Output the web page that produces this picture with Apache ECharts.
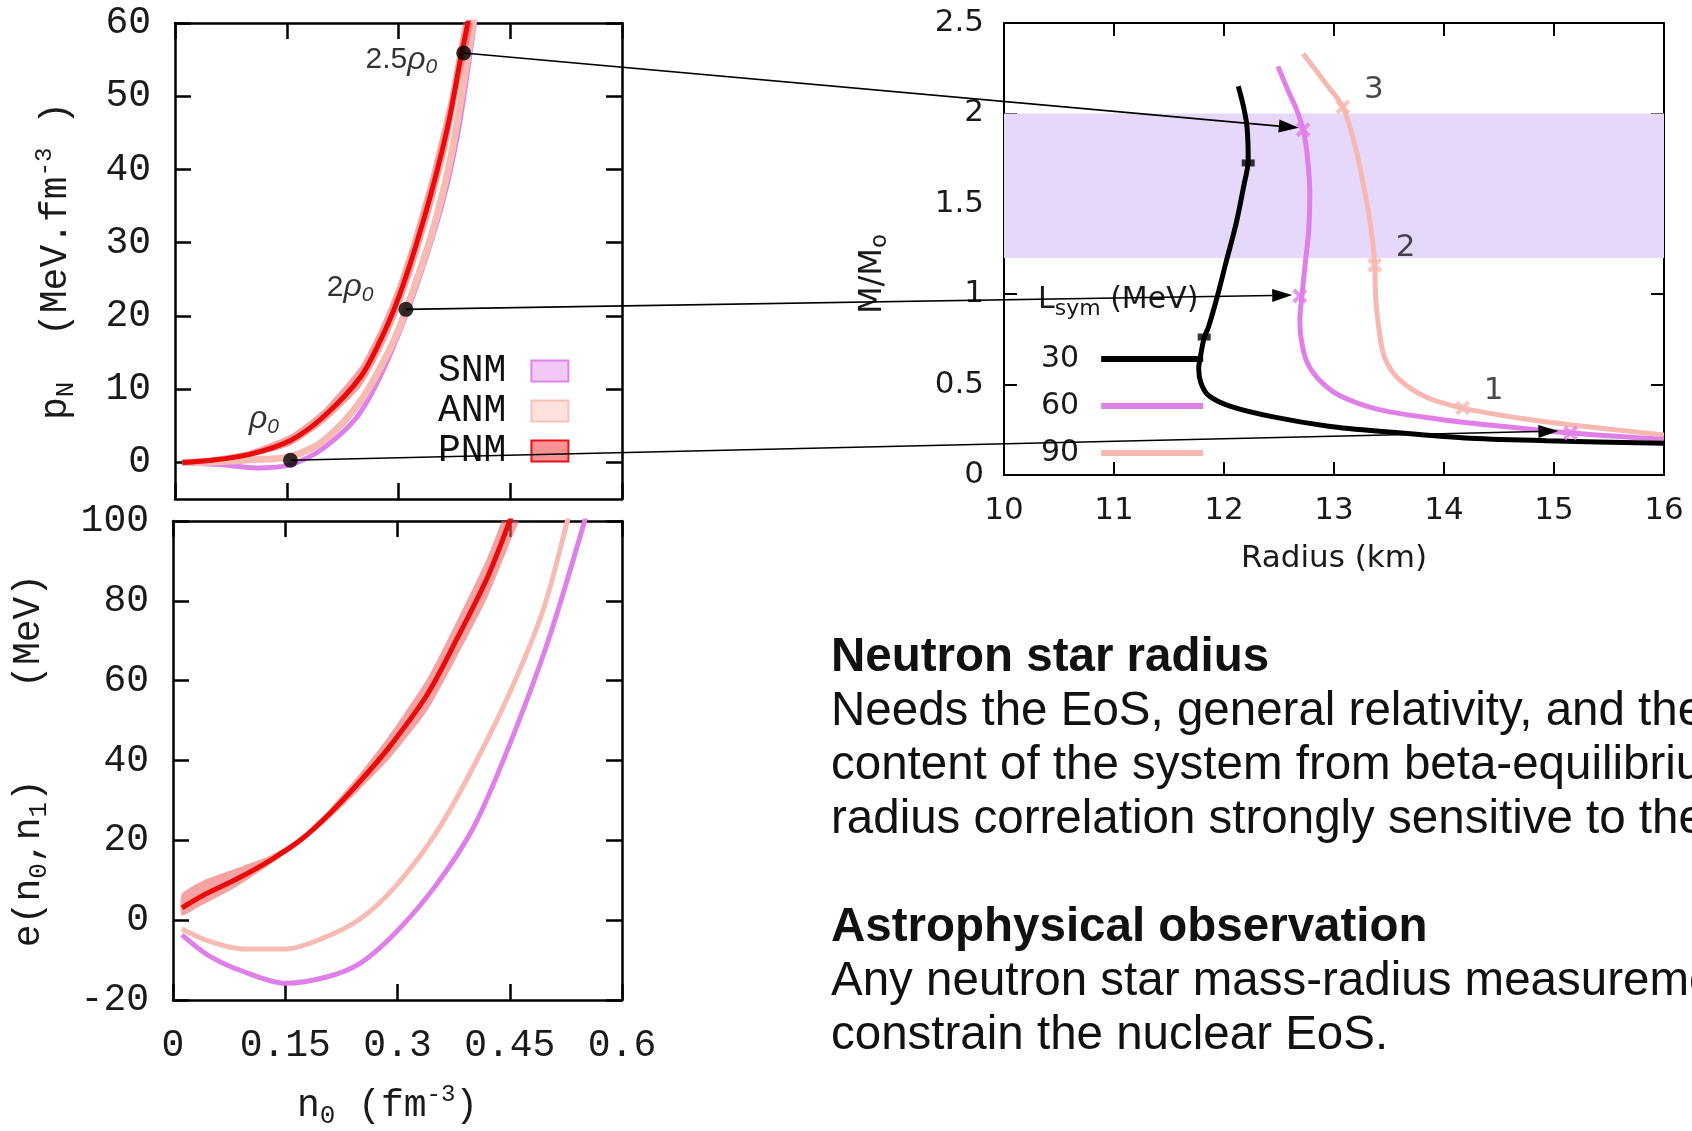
<!DOCTYPE html>
<html><head><meta charset="utf-8"><title>EoS and neutron star radius</title>
<script src="https://cdn.jsdelivr.net/npm/echarts@6.0.0/dist/echarts.min.js"></script>
<style>html,body{margin:0;padding:0;background:#fff;}#chart{width:1692px;height:1131px;}</style>
</head><body><div id="chart"></div>
<script>
// ---------------- data: pressure p_N vs n0 (top-left) ----------------
const pTopX_PNM = [0.010,0.050,0.100,0.155,0.200,0.250,0.280,0.300,0.320,0.345,0.367,0.383,0.394,0.405];
const pTopY_PNM = [0.0,0.3,1.1,3.0,6.3,11.8,17.6,22.5,28.5,37.2,46.3,54.9,60.5,67.0];
const pTopLo_PNM = [-0.3,0.0,0.7,2.3,5.4,10.4,15.9,20.6,26.3,34.7,43.5,52.0,57.0,63.0];
const pTopHi_PNM = [0.3,0.7,1.6,3.8,7.3,13.3,19.4,24.5,30.8,39.8,49.2,58.0,64.0,71.0];
const pTopX_ANM = [0.010,0.060,0.100,0.155,0.200,0.250,0.290,0.310,0.345,0.372,0.400,0.412];
const pTopY_ANM = [0.0,0.1,0.35,0.8,3.0,8.5,15.8,20.8,31.3,42.6,60.0,68.0];
const pTopX_SNM = [0.010,0.060,0.110,0.155,0.200,0.250,0.300,0.350,0.378,0.402,0.412];
const pTopY_SNM = [0.0,-0.3,-0.75,-0.3,2.0,7.0,17.5,32.2,44.0,60.0,67.0];
// density markers
const rhoX = [0.155, 0.310, 0.3875];
const rhoY = [0.3, 20.9, 55.9];
const rhoLabels = ['{r|ρ}{s|0}', '{n|2}{r|ρ}{s|0}', '{n|2.5}{r|ρ}{s|0}'];
const pTopYTicks = [0, 10, 20, 30, 40, 50, 60];

// ---------------- data: energy per particle (bottom-left) ----------------
const eX_PNM = [0.012,0.040,0.085,0.130,0.170,0.210,0.250,0.290,0.340,0.380,0.420,0.450,0.470];
const eY_PNM = [3.1,6.2,10.3,15.0,20.0,26.8,34.8,43.6,56.6,70.7,85.8,100.0,110.0];
const eHi_PNM = [6.6,9.9,13.0,16.2,20.8,28.0,36.8,46.6,60.6,75.2,90.8,105.5,116.0];
const eLo_PNM = [1.2,3.9,8.4,14.0,19.2,25.6,32.8,40.6,52.6,66.2,80.8,94.5,104.0];
const eX_ANM = [0.012,0.047,0.093,0.151,0.198,0.250,0.297,0.350,0.396,0.449,0.495,0.527,0.540];
const eY_ANM = [-2.2,-5.2,-7.2,-7.2,-4.7,0.3,8.4,21.4,36.5,56.6,77.9,100.0,110.0];
const eX_SNM = [0.012,0.047,0.093,0.151,0.204,0.250,0.297,0.350,0.402,0.449,0.501,0.550,0.560];
const eY_SNM = [-3.7,-8.8,-12.8,-15.8,-14.3,-10.8,-3.2,8.4,23.4,43.6,69.8,100.0,108.0];

// ---------------- data: mass-radius (right) ----------------
const mr30R = [12.13,12.18,12.21,12.22,12.18,12.11,12.02,11.94,11.86,11.82,11.79,11.77,11.79,11.86,12.06,12.46,12.95,13.45,14.19,14.93,16.00];
const mr30M = [2.15,2.03,1.92,1.74,1.60,1.39,1.18,0.99,0.82,0.76,0.67,0.59,0.51,0.44,0.38,0.32,0.27,0.24,0.205,0.19,0.175];
const mr60R = [12.49,12.58,12.66,12.72,12.76,12.78,12.77,12.74,12.71,12.69,12.70,12.75,12.86,13.05,13.42,13.94,14.43,15.15,16.00];
const mr60M = [2.26,2.13,2.02,1.91,1.75,1.55,1.35,1.18,1.00,0.86,0.76,0.63,0.53,0.44,0.36,0.31,0.275,0.232,0.197];
const mr90R = [12.72,12.92,13.08,13.20,13.30,13.35,13.37,13.38,13.41,13.46,13.59,13.84,14.17,14.68,15.18,16.00];
const mr90M = [2.33,2.17,2.035,1.80,1.50,1.30,1.16,0.97,0.80,0.65,0.53,0.43,0.37,0.315,0.275,0.222];
const mark30R = [12.22, 11.82];
const mark30M = [1.726, 0.763];
const mark60R = [12.72, 12.69, 15.15];
const mark60M = [1.91, 0.99, 0.232];
const mark90R = [13.08, 13.37, 14.17];
const mark90M = [2.035, 1.16, 0.37];
const mark90Labels = ['3', '2', '1'];
const obsBandR = [10, 16];
const obsBandM = [1.2, 2.0];
// arrow end points (in M-R coordinates), one per density marker
const arrowToR = [15.04, 12.62, 12.68];
const arrowToM = [0.243, 0.995, 1.92];

// ---------------- helpers ----------------
const zip = (a, b) => a.map((v, i) => [v, b[i]]);
const MONO = '"Liberation Mono", "DejaVu Sans Mono", monospace';
const SANS = '"DejaVu Sans", sans-serif';
const LSANS = '"Liberation Sans", Arial, sans-serif';
const C_RED = '#ea0a0a', C_REDBAND = 'rgba(240,100,100,0.6)';
const C_ANM = '#f7bbb4', C_SNM = '#df80e8';
const C_60 = '#e07fe8', C_90 = '#f7b8b2';

function valAxis(grid, pos, min, max, interval, labelShow, font, fontSize, tickLen, lw, margin, custom) {
  const a = {
    type: 'value', gridIndex: grid, position: pos, min: min, max: max,
    axisLine: {show: true, onZero: false, lineStyle: {color: '#000', width: lw}},
    axisTick: {show: true, inside: true, length: tickLen, lineStyle: {color: '#000', width: lw}},
    axisLabel: {show: labelShow, fontFamily: font, fontSize: fontSize, color: '#1a1a1a', margin: margin},
    splitLine: {show: false}
  };
  if (custom) { a.axisTick.customValues = custom; a.axisLabel.customValues = custom; }
  else a.interval = interval;
  return a;
}
function band(name, xs, lo, hi, color, xi, yi, z) {
  return {
    type: 'custom', name: name, xAxisIndex: xi, yAxisIndex: yi, silent: true, z: z,
    data: [[xs[0], lo[0]]],
    renderItem: function (params, api) {
      const pts = [];
      for (let i = 0; i < xs.length; i++) pts.push(api.coord([xs[i], hi[i]]));
      for (let i = xs.length - 1; i >= 0; i--) pts.push(api.coord([xs[i], lo[i]]));
      const cs = params.coordSys;
      return {type: 'polygon', shape: {points: pts, smooth: 0.2}, style: {fill: color},
        clipPath: {type: 'rect', shape: {x: cs.x, y: cs.y, width: cs.width, height: cs.height}}};
    }
  };
}
function line(name, data, color, width, xi, yi, z) {
  return {type: 'line', name: name, data: data, xAxisIndex: xi, yAxisIndex: yi, showSymbol: false,
    smooth: 0.3, clip: true, silent: true, z: z, lineStyle: {color: color, width: width}, itemStyle: {color: color}};
}

const monoRich = {
  t: {fontFamily: MONO, fontSize: 38, color: '#1a1a1a', lineHeight: 46},
  s: {fontFamily: MONO, fontSize: 26, color: '#1a1a1a', lineHeight: 26, verticalAlign: 'bottom'},
  p: {fontFamily: MONO, fontSize: 24, color: '#1a1a1a', lineHeight: 24, verticalAlign: 'top'}
};
const sansRich = {
  a: {fontFamily: SANS, fontSize: 32, color: '#1a1a1a', lineHeight: 38},
  s: {fontFamily: SANS, fontSize: 23, color: '#1a1a1a', lineHeight: 23, verticalAlign: 'bottom'}
};
const xSymbol = 'path://M2,0L5,3L8,0L10,2L7,5L10,8L8,10L5,7L2,10L0,8L3,5L0,2Z';

const option = {
  backgroundColor: '#ffffff',
  animation: false,
  grid: [
    {left: 175, top: 23, width: 447, height: 476, containLabel: false, outerBoundsMode: 'none'},
    {left: 173, top: 521, width: 449, height: 479, containLabel: false, outerBoundsMode: 'none'},
    {left: 1004, top: 23, width: 660, height: 452, containLabel: false, outerBoundsMode: 'none'}
  ],
  xAxis: [
    valAxis(0, 'bottom', 0, 0.6, 0.15, false, MONO, 38, 16, 2.5, 26),
    valAxis(0, 'top', 0, 0.6, 0.15, false, MONO, 38, 16, 2.5, 26),
    Object.assign(valAxis(1, 'bottom', 0, 0.6, 0.15, true, MONO, 38, 16, 2.5, 27), {
      name: '{t|n}{s|0}{t| (fm}{p|-3}{t|)}', nameLocation: 'middle', nameGap: 83,
      nameTextStyle: {rich: monoRich, padding: [0, 20, 0, 0]}}),
    valAxis(1, 'top', 0, 0.6, 0.15, false, MONO, 38, 16, 2.5, 24),
    Object.assign(valAxis(2, 'bottom', 10, 16, 1, true, SANS, 31, 13, 2, 20), {
      name: 'Radius (km)', nameLocation: 'middle', nameGap: 66,
      nameTextStyle: {fontFamily: SANS, fontSize: 31, color: '#1a1a1a', lineHeight: 36}}),
    valAxis(2, 'top', 10, 16, 1, false, SANS, 31, 13, 2, 18)
  ],
  yAxis: [
    Object.assign(valAxis(0, 'left', -5, 60, null, true, MONO, 38, 16, 2.5, 24, pTopYTicks), {
      name: '{t|p}{s|N}{t|  (MeV.fm}{p|-3}{t| )}', nameLocation: 'middle', nameGap: 96,
      nameTextStyle: {rich: monoRich}}),
    valAxis(0, 'right', -5, 60, null, false, MONO, 38, 16, 2.5, 24, pTopYTicks),
    Object.assign(valAxis(1, 'left', -20, 100, 20, true, MONO, 38, 16, 2.5, 24), {
      name: '{t|e(n}{s|0}{t|,n}{s|1}{t|)    (MeV)}', nameLocation: 'middle', nameGap: 121,
      nameTextStyle: {rich: monoRich}}),
    valAxis(1, 'right', -20, 100, 20, false, MONO, 38, 16, 2.5, 24),
    Object.assign(valAxis(2, 'left', 0, 2.5, 0.5, true, SANS, 31, 13, 2, 20), {
      name: '{a|M/M}{s|o}', nameLocation: 'middle', nameGap: 112,
      nameTextStyle: {rich: sansRich, padding: [0, 50, 0, 0]}}),
    valAxis(2, 'right', 0, 2.5, 0.5, false, SANS, 31, 13, 2, 20)
  ],
  legend: [
    {orient: 'vertical', left: 433, top: 347, align: 'right', itemWidth: 37, itemHeight: 21, itemGap: 2,
      selectedMode: false, textStyle: {fontFamily: MONO, fontSize: 38, color: '#111', lineHeight: 38, padding: [0, 20, 0, 0]},
      data: [
        {name: 'SNM', icon: 'rect', itemStyle: {color: '#f3c8f7', borderColor: '#de84ea', borderWidth: 2}},
        {name: 'ANM', icon: 'rect', itemStyle: {color: '#fce1dd', borderColor: '#f7c1ba', borderWidth: 2}},
        {name: 'PNM', icon: 'rect', itemStyle: {color: '#f99393', borderColor: '#e8101a', borderWidth: 2}}
      ]},
    {orient: 'vertical', left: 1036, top: 339, align: 'right', itemWidth: 102, itemHeight: 6, itemGap: 17,
      selectedMode: false, textStyle: {fontFamily: SANS, fontSize: 30, color: '#1a1a1a', lineHeight: 30, padding: [0, 17, 0, 0]},
      data: [
        {name: '30', icon: 'rect', itemStyle: {color: '#000000', borderWidth: 0}},
        {name: '60', icon: 'rect', itemStyle: {color: C_60, borderWidth: 0}},
        {name: '90', icon: 'rect', itemStyle: {color: C_90, borderWidth: 0}}
      ]}
  ],
  series: [
    // top-left: pressure
    line('SNM', zip(pTopX_SNM, pTopY_SNM), C_SNM, 5, 0, 0, 2),
    line('ANM', zip(pTopX_ANM, pTopY_ANM), C_ANM, 7, 0, 0, 2),
    band('PNM', pTopX_PNM, pTopLo_PNM, pTopHi_PNM, C_REDBAND, 0, 0, 3),
    line('PNM', zip(pTopX_PNM, pTopY_PNM), C_RED, 5, 0, 0, 4),
    {type: 'scatter', name: 'density', xAxisIndex: 0, yAxisIndex: 0, z: 10, silent: true,
      symbol: 'circle', symbolSize: 15, itemStyle: {color: '#000'},
      label: {show: true, position: 'left', distance: 5, formatter: p => rhoLabels[p.dataIndex],
        rich: {
          n: {fontFamily: LSANS, fontSize: 30, color: '#000', lineHeight: 36},
          r: {fontFamily: LSANS, fontStyle: 'italic', fontSize: 32, color: '#000', lineHeight: 36},
          s: {fontFamily: LSANS, fontStyle: 'italic', fontSize: 21, color: '#000', lineHeight: 21, verticalAlign: 'bottom'}
        }},
      data: [
        {value: [rhoX[0], rhoY[0]], label: {offset: [1, -41]}},
        {value: [rhoX[1], rhoY[1]], label: {offset: [-20, -22]}},
        {value: [rhoX[2], rhoY[2]], label: {offset: [-14, 7]}}
      ]},
    // bottom-left: energy
    line('SNM', zip(eX_SNM, eY_SNM), C_SNM, 5, 2, 2, 2),
    line('ANM', zip(eX_ANM, eY_ANM), C_ANM, 5, 2, 2, 2),
    band('PNM', eX_PNM, eLo_PNM, eHi_PNM, C_REDBAND, 2, 2, 3),
    line('PNM', zip(eX_PNM, eY_PNM), C_RED, 5, 2, 2, 4),
    // right: mass-radius
    {type: 'custom', name: 'obs', xAxisIndex: 4, yAxisIndex: 4, silent: true, z: 1,
      data: [[obsBandR[0], obsBandM[0]]],
      renderItem: function (params, api) {
        const a = api.coord([obsBandR[0], obsBandM[1]]);
        const b = api.coord([obsBandR[1], obsBandM[0]]);
        return {type: 'rect', shape: {x: a[0], y: a[1], width: b[0] - a[0], height: b[1] - a[1]},
          style: {fill: '#e5d8fa'}};
      }},
    line('90', zip(mr90R, mr90M), C_90, 5, 4, 4, 3),
    line('60', zip(mr60R, mr60M), C_60, 5, 4, 4, 4),
    line('30', zip(mr30R, mr30M), '#000000', 5, 4, 4, 5),
    {type: 'scatter', name: 'm90', xAxisIndex: 4, yAxisIndex: 4, z: 6, silent: true,
      symbol: xSymbol, symbolSize: 15, itemStyle: {color: C_90},
      label: {show: true, position: 'inside', offset: [31, -17], formatter: p => mark90Labels[p.dataIndex],
        fontFamily: SANS, fontSize: 31, color: '#1a1a1a'},
      data: zip(mark90R, mark90M)},
    {type: 'scatter', name: 'm60', xAxisIndex: 4, yAxisIndex: 4, z: 6, silent: true,
      symbol: xSymbol, symbolSize: 15, itemStyle: {color: C_60}, data: zip(mark60R, mark60M)},
    {type: 'scatter', name: 'm30', xAxisIndex: 4, yAxisIndex: 4, z: 6, silent: true,
      symbol: 'rect', symbolSize: [13, 7], itemStyle: {color: '#000'}, data: zip(mark30R, mark30M)}
  ],
  graphic: [
    {type: 'text', id: 'lsym', x: 1038, y: 300, z: 20, silent: true,
      style: {text: '{a|L}{s|sym}{a| (MeV)}', verticalAlign: 'middle', align: 'left',
        rich: {a: {fontFamily: SANS, fontSize: 30, fill: '#1a1a1a', lineHeight: 40},
               s: {fontFamily: SANS, fontSize: 22, fill: '#1a1a1a', lineHeight: 22, verticalAlign: 'bottom'}}}},
    {type: 'text', id: 'notes', x: 831, y: 631, z: 20, silent: true,
      style: {
        text: '{b|Neutron star radius}\n' +
              '{r|Needs the EoS, general relativity, and the proton}\n' +
              '{r|content of the system from beta-equilibrium. Mass-}\n' +
              '{r|radius correlation strongly sensitive to the EoS.}\n' +
              ' \n' +
              '{b|Astrophysical observation}\n' +
              '{r|Any neutron star mass-radius measurement will}\n' +
              '{r|constrain the nuclear EoS.}',
        fontFamily: LSANS, fontSize: 47.5, lineHeight: 54, fill: '#111',
        align: 'left', verticalAlign: 'top',
        rich: {
          b: {fontFamily: LSANS, fontWeight: 'bold', fontSize: 47.5, lineHeight: 54, fill: '#111'},
          r: {fontFamily: LSANS, fontSize: 47.5, lineHeight: 54, fill: '#111'}
        }}}
  ]
};

const chart = echarts.init(document.getElementById('chart'), null, {renderer: 'canvas'});
chart.setOption(option);

// arrows from density markers (top-left) to the corresponding M-R points (right)
const dotSeries = option.series.findIndex(s => s.name === 'density');
const mrSeries = option.series.findIndex(s => s.name === '30');
const arrows = [];
for (let i = 0; i < rhoX.length; i++) {
  const p0 = chart.convertToPixel({seriesIndex: dotSeries}, [rhoX[i], rhoY[i]]);
  const p1 = chart.convertToPixel({seriesIndex: mrSeries}, [arrowToR[i], arrowToM[i]]);
  const dx = p1[0] - p0[0], dy = p1[1] - p0[1];
  const len = Math.sqrt(dx * dx + dy * dy);
  const ux = dx / len, uy = dy / len, nx = -uy, ny = ux;
  const headL = 20, headW = 6.5;
  const bx = p1[0] - ux * headL, by = p1[1] - uy * headL;
  arrows.push({type: 'line', id: 'arrowL' + i, z: 30, silent: true,
    shape: {x1: p0[0], y1: p0[1], x2: bx, y2: by}, style: {stroke: '#000', lineWidth: 1.6}});
  arrows.push({type: 'polygon', id: 'arrowH' + i, z: 30, silent: true,
    shape: {points: [[p1[0], p1[1]], [bx + nx * headW, by + ny * headW], [bx - nx * headW, by - ny * headW]]},
    style: {fill: '#000'}});
}
chart.setOption({graphic: arrows});
</script></body></html>
